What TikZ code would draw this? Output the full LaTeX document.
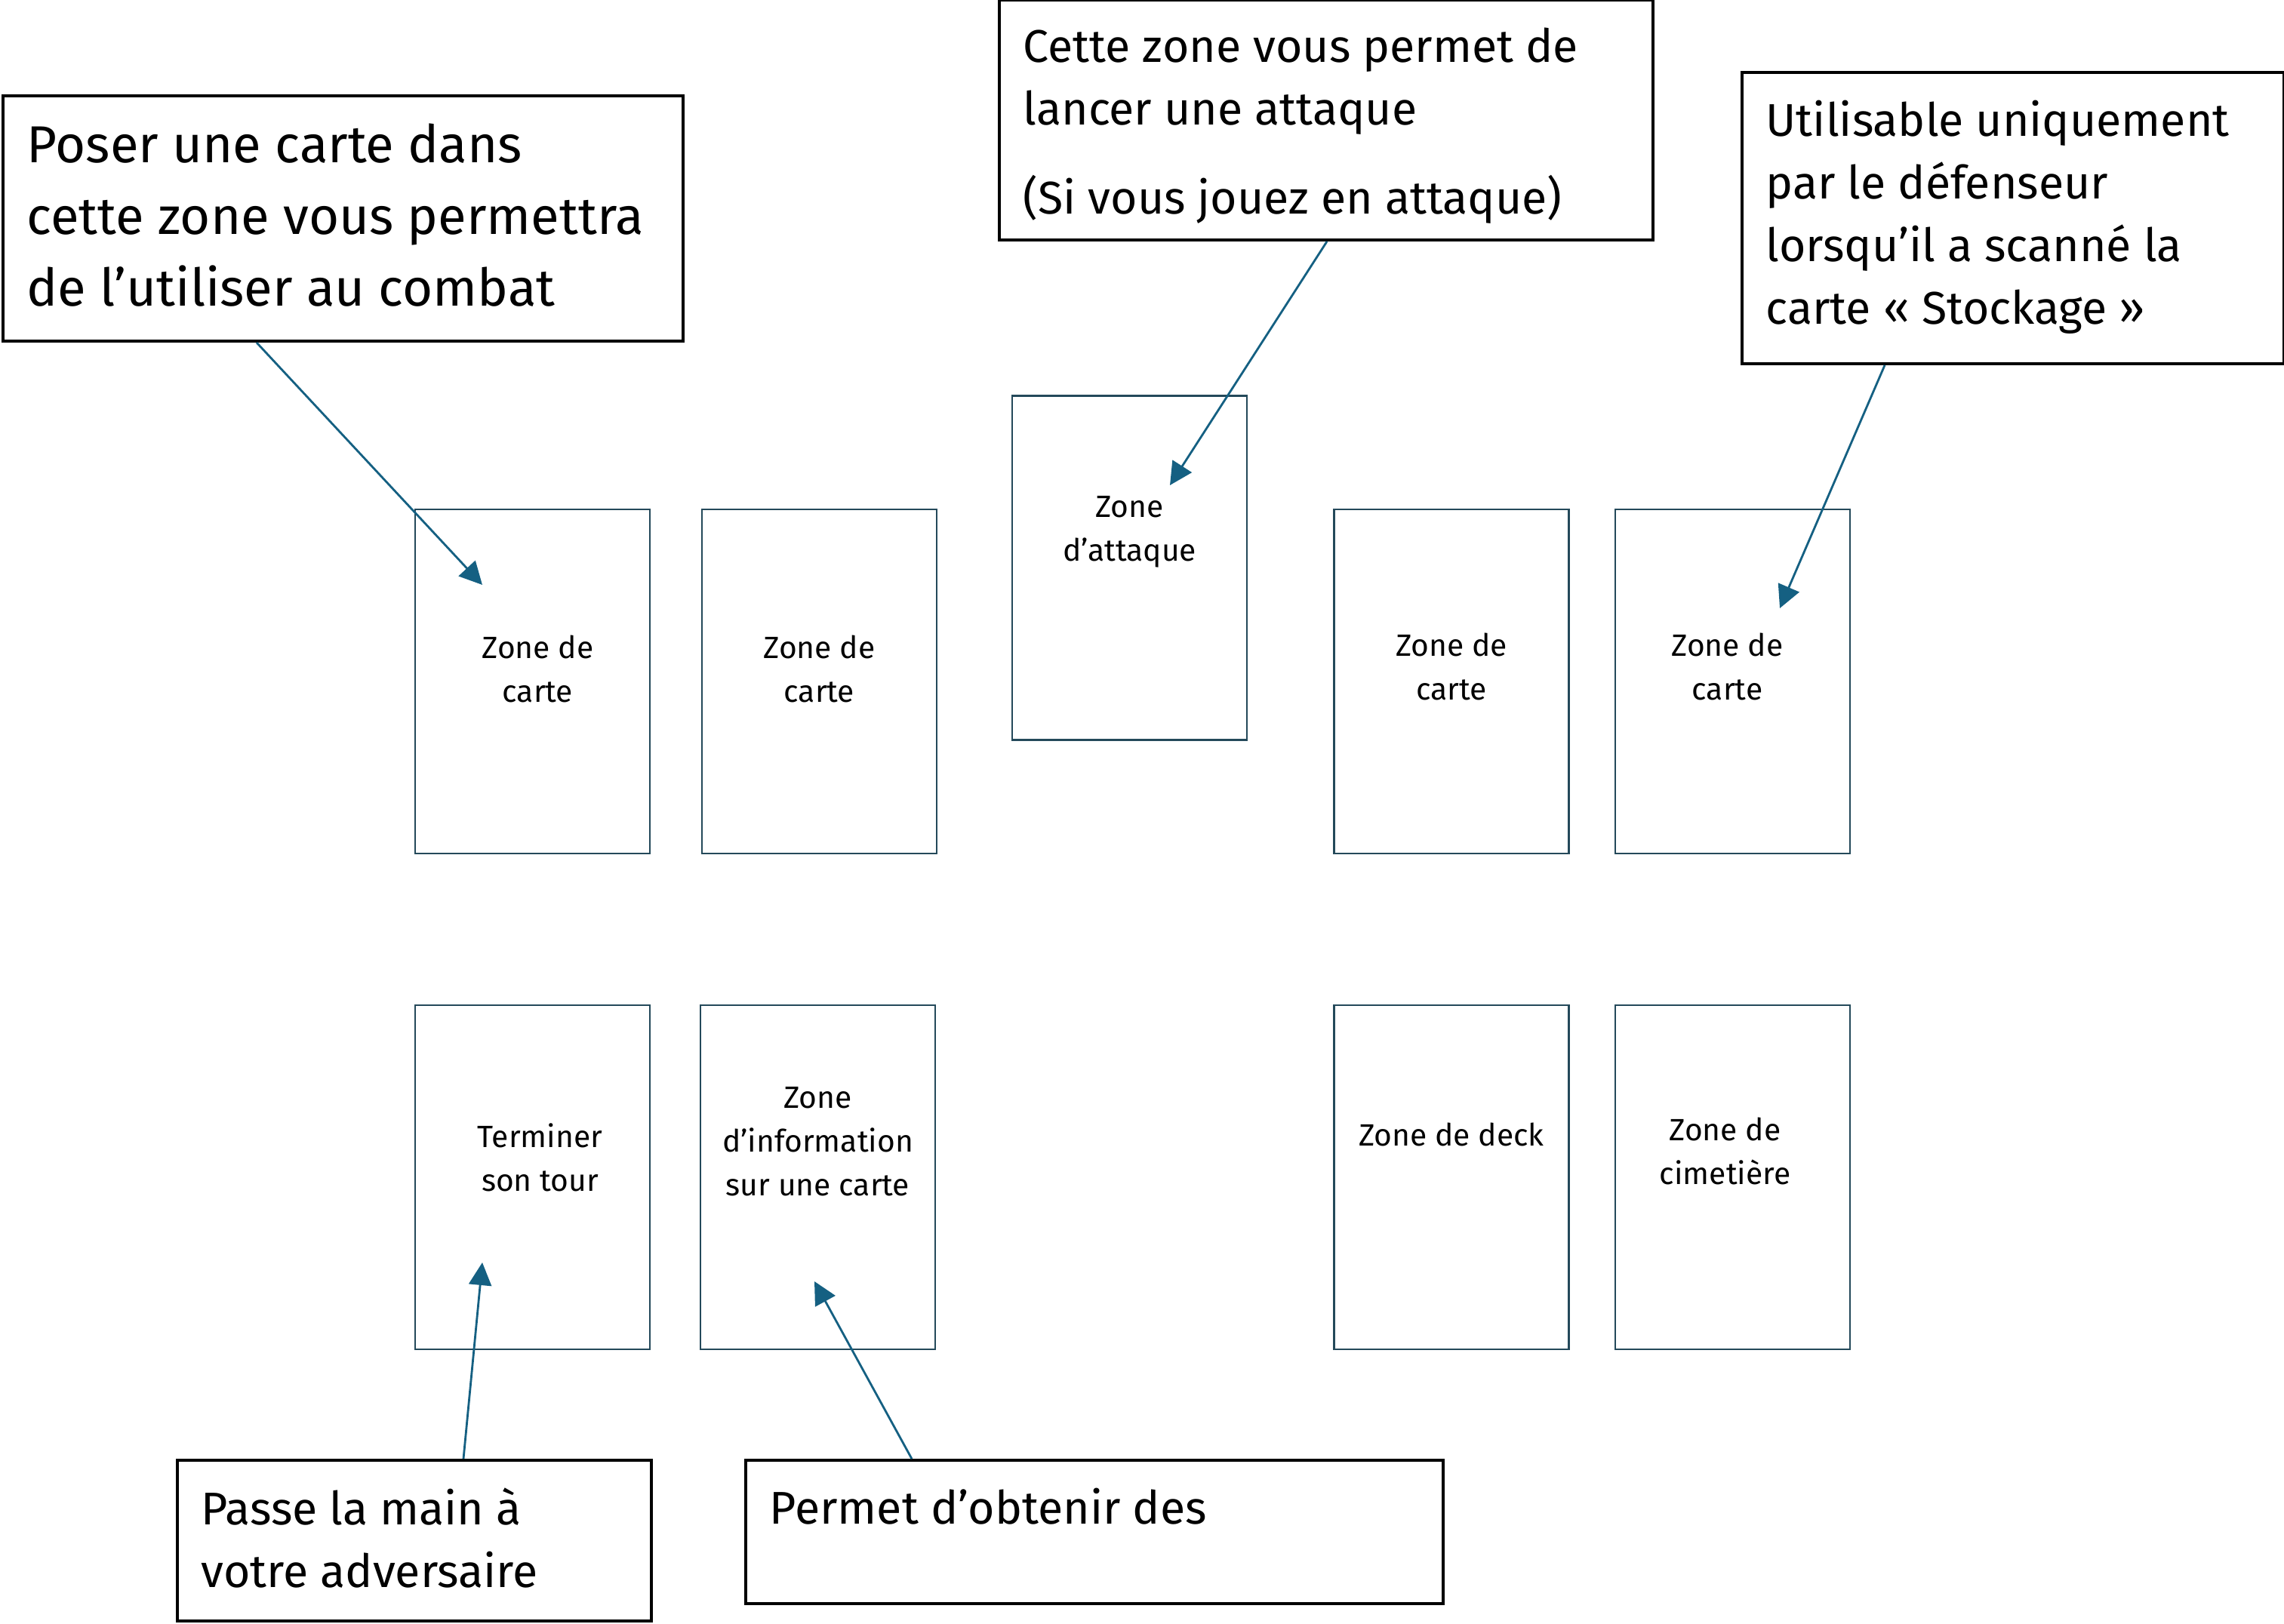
\documentclass[tikz,border=0pt]{standalone}
\usepackage{fontspec}
\setmainfont{Fira Sans}
\usetikzlibrary{arrows.meta}
\definecolor{cardline}{HTML}{24495A}
\definecolor{arrowblue}{HTML}{156082}

\begin{document}
\begin{tikzpicture}
   \tikzset{CardStyle/.style={draw=cardline, line width=0.8pt, minimum width=3.11cm, minimum height=4.56cm, inner sep=0pt}}
   \tikzset{CardText/.style={align=center, inner sep=0pt, font=\fontsize{11.6}{16.5}\selectfont}}
   \tikzset{NoteStyle/.style={draw=black, line width=1.1pt, anchor=south west, inner sep=0pt}}
   \tikzset{NoteText/.style={anchor=north west, align=left, inner xsep=0.33cm, inner ysep=0.38cm, font=\fontsize{17.3}{23.6}\selectfont}}
   \tikzset{EdgeStyle/.style={draw=arrowblue, line width=0.8pt, -{Triangle[length=0.3cm, width=0.3cm]}}}
   \useasboundingbox (0,0) rectangle (30.26,21.51);
   % cartes
   \node[CardStyle, label={[CardText, yshift=0.17cm, xshift=0.07cm]center:Zone de\\carte}] (zoneA) at (7.055,12.48) {};
   \node[CardStyle, label={[CardText, yshift=0.17cm]center:Zone de\\carte}] (zoneB) at (10.855,12.48) {};
   \node[CardStyle, label={[CardText, yshift=0.48cm]center:Zone\\d’attaque}] (zoneAttaque) at (14.965,13.985) {};
   \node[CardStyle, label={[CardText, yshift=0.2cm]center:Zone de\\carte}] (zoneD) at (19.23,12.48) {};
   \node[CardStyle, label={[CardText, yshift=0.2cm, xshift=-0.07cm]center:Zone de\\carte}] (zoneE) at (22.955,12.48) {};
   \node[CardStyle, label={[CardText, yshift=0.26cm, xshift=0.1cm]center:Terminer\\son tour}] (zoneFin) at (7.055,5.91) {};
   \node[CardStyle, label={[CardText, yshift=0.47cm]center:Zone\\d’information\\sur une carte}] (zoneInfo) at (10.835,5.91) {};
   \node[CardStyle, label={[CardText, yshift=0.57cm]center:Zone de deck}] (zoneDeck) at (19.23,5.91) {};
   \node[CardStyle, label={[CardText, yshift=0.35cm, xshift=-0.1cm]center:Zone de\\cimetière}] (zoneCimetiere) at (22.955,5.91) {};
   % notes
   \node[NoteStyle, minimum width=9.01cm, minimum height=3.25cm, label={[NoteText, font=\fontsize{19.6}{27}\selectfont]north west:Poser une carte dans\\cette zone vous permettra\\de l’utiliser au combat}] (notePoser) at (0.02,16.97) {};
   \node[NoteStyle, minimum width=8.66cm, minimum height=3.18cm, label={[NoteText]north west:Cette zone vous permet de\\lancer une attaque\\[10pt](Si vous jouez en attaque)}] (noteAttaque) at (13.22,18.31) {};
   \node[NoteStyle, minimum width=7.18cm, minimum height=3.86cm, label={[NoteText]north west:Utilisable uniquement\\par le défenseur\\lorsqu’il a scanné la\\carte « Stockage »}] (noteStockage) at (23.06,16.67) {};
   \node[NoteStyle, minimum width=6.28cm, minimum height=2.13cm, label={[NoteText]north west:Passe la main à\\votre adversaire}] (notePasse) at (2.33,0.01) {};
   \node[NoteStyle, minimum width=9.24cm, minimum height=1.90cm, label={[NoteText]north west:Permet d’obtenir des}] (noteObtenir) at (9.86,0.24) {};
   % fleches
   \coordinate (tipA) at (6.39,13.76);
   \coordinate (tipAttaque) at (15.50,15.08);
   \coordinate (tipE) at (23.58,13.45);
   \coordinate (tipFin) at (6.39,4.78);
   \coordinate (tipInfo) at (10.79,4.53);
   \draw[EdgeStyle] ([xshift=3.38cm]notePoser.south west) -- (tipA);
   \draw[EdgeStyle] ([xshift=4.36cm]noteAttaque.south west) -- (tipAttaque);
   \draw[EdgeStyle] ([xshift=1.91cm]noteStockage.south west) -- (tipE);
   \draw[EdgeStyle] ([xshift=3.81cm]notePasse.north west) -- (tipFin);
   \draw[EdgeStyle] ([xshift=2.22cm]noteObtenir.north west) -- (tipInfo);
\end{tikzpicture}
\end{document}
